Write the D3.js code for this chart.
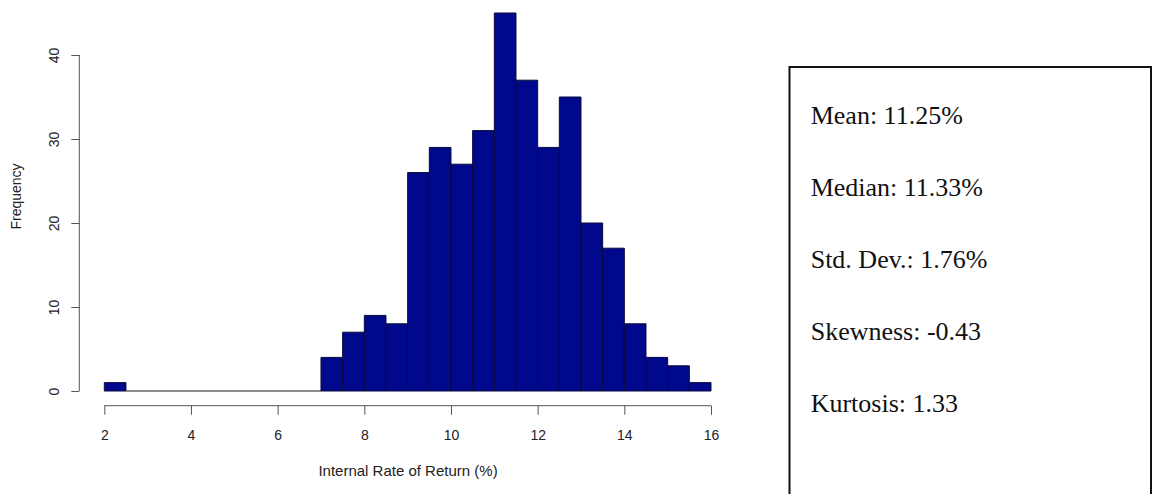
<!DOCTYPE html>
<html>
<head>
<meta charset="utf-8">
<script src="https://cdn.jsdelivr.net/npm/d3@7"></script>
<style>
  html, body { margin: 0; padding: 0; background: #fff; }
  svg { display: block; }
</style>
</head>
<body>
<svg id="chart" width="1152" height="494"></svg>
<script>
// ---- data ----
const binStarts = [2, 2.5, 3, 3.5, 4, 4.5, 5, 5.5, 6, 6.5, 7, 7.5, 8, 8.5, 9, 9.5, 10, 10.5, 11, 11.5, 12, 12.5, 13, 13.5, 14, 14.5, 15, 15.5];
const binEnds   = [2.5, 3, 3.5, 4, 4.5, 5, 5.5, 6, 6.5, 7, 7.5, 8, 8.5, 9, 9.5, 10, 10.5, 11, 11.5, 12, 12.5, 13, 13.5, 14, 14.5, 15, 15.5, 16];
const counts    = [1, 0, 0, 0, 0, 0, 0, 0, 0, 0, 4, 7, 9, 8, 26, 29, 27, 31, 45, 37, 29, 35, 20, 17, 8, 4, 3, 1];
const xTicks = [2, 4, 6, 8, 10, 12, 14, 16];
const yTicks = [0, 10, 20, 30, 40];
const xLabel = "Internal Rate of Return (%)";
const yLabel = "Frequency";
const statLines = ["Mean: 11.25%", "Median: 11.33%", "Std. Dev.: 1.76%", "Skewness: -0.43", "Kurtosis: 1.33"];

// ---- layout ----
const svg = d3.select("#chart");
const x = d3.scaleLinear().domain([2, 16]).range([104.3, 711]);
const y = d3.scaleLinear().domain([0, 40]).range([391, 55]);
const axisColor = "#555";
const sansFont = "'Liberation Sans', Arial, Helvetica, sans-serif";

// bars (paths so that zero-count bins still show as a line)
const bins = binStarts.map((s, i) => ({ x0: s, x1: binEnds[i], n: counts[i] }));
svg.append("g").selectAll("path").data(bins).join("path")
  .attr("d", d => `M${x(d.x0)},${y(0)}V${y(d.n)}H${x(d.x1)}V${y(0)}Z`)
  .attr("fill", "#00088c")
  .attr("stroke", d => d.n === 0 ? "#666" : "#0a0a3c")
  .attr("stroke-width", 1);

// x axis
const xAxisY = 405.7;
const gx = svg.append("g").attr("transform", `translate(0,${xAxisY})`)
  .call(d3.axisBottom(x).tickValues(xTicks).tickSize(9).tickPadding(15).tickSizeOuter(0));
gx.select(".domain").attr("stroke", axisColor).attr("d", `M${x(2)},0H${x(16)}`);
gx.selectAll(".tick line").attr("stroke", axisColor);
gx.selectAll(".tick text").attr("fill", "#222").style("font-family", sansFont).style("font-size", "14px");

// y axis
const yAxisX = 79.3;
const gy = svg.append("g").attr("transform", `translate(${yAxisX},0)`)
  .call(d3.axisLeft(y).tickValues(yTicks).tickSize(8).tickSizeOuter(0));
gy.select(".domain").attr("stroke", axisColor).attr("d", `M0,${y(0)}V${y(40)}`);
gy.selectAll(".tick line").attr("stroke", axisColor);
gy.selectAll(".tick text")
  .attr("x", null).attr("dy", null)
  .attr("text-anchor", "middle")
  .attr("transform", "translate(-20,0) rotate(-90)")
  .attr("fill", "#222").style("font-family", sansFont).style("font-size", "14px");

// axis titles
svg.append("text")
  .attr("x", 408).attr("y", 476)
  .attr("text-anchor", "middle")
  .attr("fill", "#222")
  .style("font-family", sansFont).style("font-size", "15px")
  .text(xLabel);

svg.append("text")
  .attr("transform", `translate(21,${196.5}) rotate(-90)`)
  .attr("text-anchor", "middle")
  .attr("fill", "#222")
  .style("font-family", sansFont).style("font-size", "14px")
  .text(yLabel);

// stats box
svg.append("rect")
  .attr("x", 789.5).attr("y", 67)
  .attr("width", 1151 - 789.5).attr("height", 460)
  .attr("fill", "none").attr("stroke", "#111").attr("stroke-width", 2);

svg.append("g").selectAll("text").data(statLines).join("text")
  .attr("x", 810.7)
  .attr("y", (d, i) => 124 + i * 72)
  .attr("fill", "#111")
  .style("font-family", "'Liberation Serif', 'Times New Roman', serif")
  .style("font-size", "26px")
  .text(d => d);
</script>
</body>
</html>
